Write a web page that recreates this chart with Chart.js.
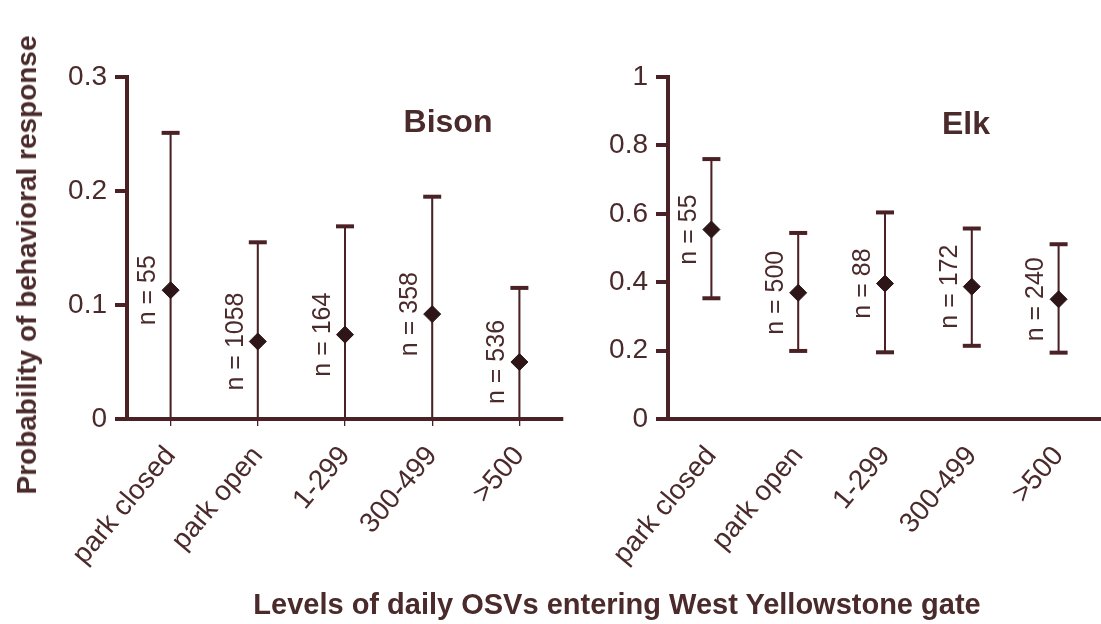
<!DOCTYPE html>
<html>
<head>
<meta charset="utf-8">
<script src="https://cdn.jsdelivr.net/npm/chart.js@4.4.0/dist/chart.umd.min.js"></script>
<style>
  html, body { margin: 0; overflow: hidden; }
  body { background: #fff; width: 1101px; height: 624px; position: relative;
         font-family: "Liberation Sans", Arial, sans-serif; color: #4a2a2a; }
  /* containers are a bit wider than the plot: Chart.js keeps room on the right for rotated labels */
  #left { position: absolute; left: 0; top: 0; width: 576px; height: 624px; }
  #right { position: absolute; left: 562px; top: 0; width: 553px; height: 624px; }
  .lab { position: absolute; font-weight: bold; white-space: nowrap; transform: translate(-50%, -50%); }
  #ytitle { left: 27px; top: 265px; font-size: 28px; transform: translate(-50%, -50%) rotate(-90deg); }
  #xtitle { left: 617px; top: 604px; font-size: 29px; }
  #bisonTitle { left: 448px; top: 121px; font-size: 32px; }
  #elkTitle { left: 966px; top: 123px; font-size: 32px; }
</style>
</head>
<body>
<div id="left"><canvas id="bisonChart"></canvas></div>
<div id="right"><canvas id="elkChart"></canvas></div>
<div class="lab" id="ytitle">Probability of behavioral response</div>
<div class="lab" id="xtitle">Levels of daily OSVs entering West Yellowstone gate</div>
<div class="lab" id="bisonTitle">Bison</div>
<div class="lab" id="elkTitle">Elk</div>
<script>
var categories = ['park closed', 'park open', '1-299', '300-499', '>500'];

var bisonMean  = [0.113, 0.068, 0.074, 0.092, 0.050];
var bisonUpper = [0.251, 0.155, 0.169, 0.195, 0.115];
var bisonLower = [0, 0, 0, 0, 0];
var bisonN     = [55, 1058, 164, 358, 536];
var bisonTicks = [0, 0.1, 0.2, 0.3];

var elkMean  = [0.554, 0.369, 0.396, 0.387, 0.350];
var elkUpper = [0.760, 0.544, 0.604, 0.557, 0.511];
var elkLower = [0.353, 0.199, 0.195, 0.214, 0.194];
var elkN     = [55, 500, 88, 172, 240];
var elkTicks = [0, 0.2, 0.4, 0.6, 0.8, 1];

var ink = '#4a2226';
var dark = '#2e1517';
var textInk = '#4a2a2a';
var fontFamily = '"Liberation Sans", Arial, sans-serif';

// draws the rotated "n = ..." text next to each mean point
var nLabelPlugin = {
  id: 'nLabels',
  afterDatasetsDraw: function (chart, args, opts) {
    var meta = chart.getDatasetMeta(opts.datasetIndex);
    var ctx = chart.ctx;
    ctx.save();
    ctx.font = '25px ' + fontFamily;
    ctx.fillStyle = textInk;
    ctx.textAlign = 'center';
    ctx.textBaseline = 'middle';
    meta.data.forEach(function (pt, i) {
      ctx.save();
      ctx.translate(pt.x - 22, pt.y);
      ctx.rotate(-Math.PI / 2);
      ctx.fillText('n = ' + opts.counts[i], 0, 0);
      ctx.restore();
    });
    ctx.restore();
  }
};

function makeChart(id, cfg) {
  var ctx = document.getElementById(id);
  var datasets = [
    {
      type: 'bar',
      data: cfg.lower.map(function (lo, i) { return [lo, cfg.upper[i]]; }),
      backgroundColor: ink,
      barThickness: 1.4,
      borderWidth: 0,
      order: 3
    },
    {
      type: 'line',
      data: cfg.upper,
      showLine: false,
      pointStyle: 'line',
      pointRadius: 9,
      pointBorderWidth: 4,
      pointBorderColor: ink,
      order: 2
    }
  ];
  if (cfg.lowerCaps) {
    datasets.push({
      type: 'line',
      data: cfg.lower,
      showLine: false,
      pointStyle: 'line',
      pointRadius: 9,
      pointBorderWidth: 4,
      pointBorderColor: ink,
      order: 2
    });
  }
  datasets.push({
    type: 'line',
    data: cfg.mean,
    showLine: false,
    pointStyle: 'rectRot',
    pointRadius: 8.5,
    pointBackgroundColor: dark,
    pointBorderColor: dark,
    pointBorderWidth: 1,
    order: 1
  });

  return new Chart(ctx, {
    type: 'bar',
    data: { labels: categories, datasets: datasets },
    options: {
      responsive: true,
      maintainAspectRatio: false,
      animation: false,
      events: [],
      layout: { padding: { top: 77, right: 0, bottom: 0, left: 0 } },
      scales: {
        x: {
          type: 'category',
          offset: true,
          afterFit: function (s) { s.height = 205; },
          grid: {
            display: true,
            drawOnChartArea: false,
            offset: false,
            tickLength: 7,
            lineWidth: 1.3,
            color: cfg.xTicks ? ink : 'rgba(0,0,0,0)'
          },
          border: { display: true, width: 4, color: ink },
          ticks: {
            autoSkip: false,
            maxRotation: 50,
            minRotation: 50,
            padding: 14,
            color: textInk,
            font: { family: fontFamily, size: 28 }
          }
        },
        y: {
          min: 0,
          max: cfg.ticks[cfg.ticks.length - 1],
          afterFit: function (s) { s.width = cfg.yWidth; },
          afterBuildTicks: function (s) {
            s.ticks = cfg.ticks.map(function (v) { return { value: v }; });
          },
          grid: {
            display: true,
            drawOnChartArea: false,
            tickLength: 12,
            lineWidth: 4,
            color: ink
          },
          border: { display: true, width: 4, color: ink },
          ticks: {
            padding: 8,
            color: textInk,
            font: { family: fontFamily, size: 28 },
            callback: function (v) { return String(v); }
          }
        }
      },
      plugins: {
        legend: { display: false },
        tooltip: { enabled: false },
        nLabels: { datasetIndex: datasets.length - 1, counts: cfg.n }
      }
    },
    plugins: [nLabelPlugin]
  });
}

makeChart('bisonChart', {
  mean: bisonMean, upper: bisonUpper, lower: bisonLower, n: bisonN,
  ticks: bisonTicks, yWidth: 127, lowerCaps: false, xTicks: true
});
makeChart('elkChart', {
  mean: elkMean, upper: elkUpper, lower: elkLower, n: elkN,
  ticks: elkTicks, yWidth: 106, lowerCaps: true, xTicks: false
});
</script>
</body>
</html>
